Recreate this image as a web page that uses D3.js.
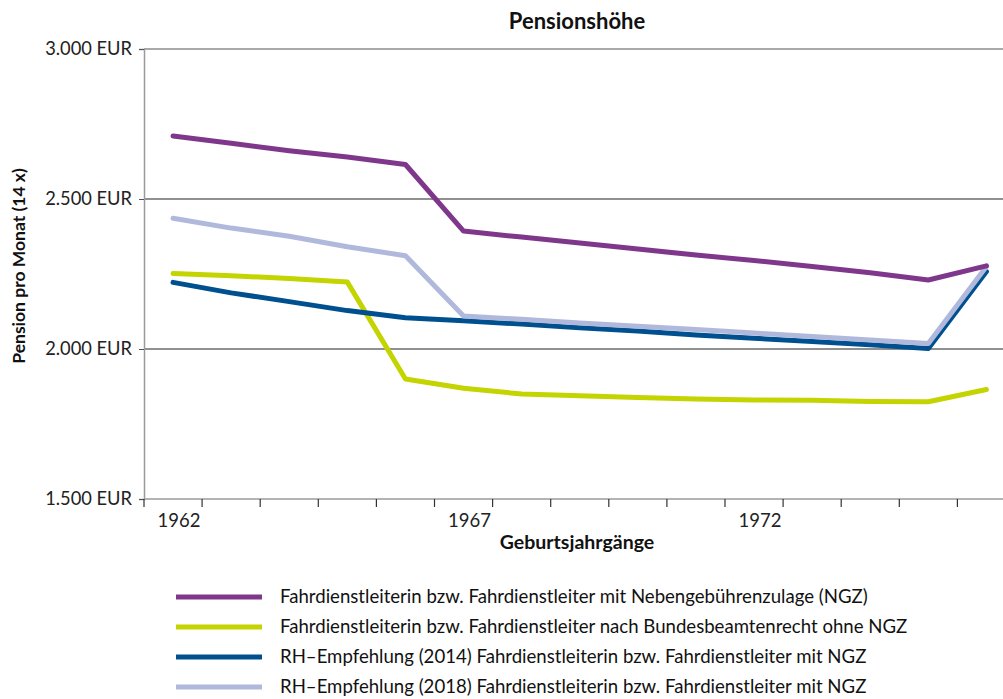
<!DOCTYPE html>
<html><head><meta charset="utf-8">
<script src="https://cdn.jsdelivr.net/npm/d3@7"></script>
<style>body{margin:0;background:#fff}svg{display:block}text{font-family:Lato,sans-serif}</style>
</head><body>
<script>
const years = [1962,1963,1964,1965,1966,1967,1968,1969,1970,1971,1972,1973,1974,1975,1976];
const tickLabels = ["1962","1967","1972"];
const seriesNames = [
  "Fahrdienstleiterin bzw. Fahrdienstleiter mit Nebengebührenzulage (NGZ)",
  "Fahrdienstleiterin bzw. Fahrdienstleiter nach Bundesbeamtenrecht ohne NGZ",
  "RH–Empfehlung (2014) Fahrdienstleiterin bzw. Fahrdienstleiter mit NGZ",
  "RH–Empfehlung (2018) Fahrdienstleiterin bzw. Fahrdienstleiter mit NGZ"
];
const seriesColors = ["#7f378c","#c3d400","#00508f","#b0b9dc"];
const ngz      = [2710,2686,2661,2640,2615,2393,2373,2353,2333,2313,2295,2275,2254,2230,2277];
const ohneNgz  = [2252,2244,2235,2223,1900,1869,1850,1844,1838,1833,1830,1829,1825,1824,1865];
const rh2014   = [2222,2187,2158,2128,2104,2094,2083,2071,2060,2047,2036,2025,2014,2002,2258];
const rh2018   = [2436,2403,2376,2341,2311,2110,2099,2087,2076,2065,2053,2042,2030,2018,2275];
const yTicks = [1500,2000,2500,3000];
const gridValues = [2000,2500];

const W = 1003, H = 699;
const svg = d3.select("body").append("svg").attr("width",W).attr("height",H);

const x = d3.scaleBand().domain(years).range([144, 144+15*58.1]).paddingInner(0).paddingOuter(0);
const y = d3.scaleLinear().domain([1500,3000]).range([499,49]);
const fmt = v => d3.format(",")(v).replace(",",".") + " EUR";

// grid lines
svg.selectAll("line.grid").data(gridValues).join("line")
  .attr("x1",144).attr("x2",W).attr("y1",d=>y(d)).attr("y2",d=>y(d))
  .attr("stroke","#222").attr("stroke-width",1.2);
svg.append("line").attr("x1",144).attr("x2",W).attr("y1",y(3000)).attr("y2",y(3000))
  .attr("stroke","#8c8c8c").attr("stroke-width",1.5);

// y axis
const yAxis = d3.axisLeft(y).tickValues(yTicks).tickFormat(fmt).tickSize(5).tickPadding(7);
const gy = svg.append("g").attr("transform","translate(144,0)").call(yAxis)
  .attr("font-size",null).attr("font-family",null);
gy.select(".domain").attr("stroke","#9a9a9a").attr("stroke-width",1.5);
gy.selectAll(".tick line").attr("stroke","#555");
gy.selectAll(".tick text").style("font-size","18.3px").attr("fill","#222");

// x axis
svg.append("line").attr("x1",144).attr("x2",W).attr("y1",499).attr("y2",499)
  .attr("stroke","#9a9a9a").attr("stroke-width",1.5);
const boundaries = years.map(d=>x(d)).concat([x(years[years.length-1])+x.bandwidth()]);
svg.selectAll("line.xt").data(boundaries).join("line")
  .attr("x1",d=>d).attr("x2",d=>d).attr("y1",499).attr("y2",507)
  .attr("stroke","#333").attr("stroke-width",1.2);
svg.selectAll("text.xl").data(tickLabels).join("text")
  .attr("x",d=>x(+d)+x.bandwidth()/2+6).attr("y",527)
  .attr("text-anchor","middle").style("font-size","18.5px").attr("fill","#222").text(d=>d);

// titles
svg.append("text").attr("x",577).attr("y",29).attr("text-anchor","middle")
  .style("font-size","22px").attr("font-weight","bold").attr("fill","#111").text("Pensionshöhe");
svg.append("text").attr("x",577).attr("y",549).attr("text-anchor","middle")
  .style("font-size","19.5px").attr("font-weight","bold").attr("fill","#111").text("Geburtsjahrgänge");
svg.append("text").attr("transform","translate(25,266) rotate(-90)").attr("text-anchor","middle")
  .style("font-size","17.5px").attr("font-weight","bold").attr("fill","#111").text("Pension pro Monat (14 x)");

// lines
const allSeries = [ngz, ohneNgz, rh2014, rh2018];
const drawOrder = [1,2,3,0];
const line = d3.line().x((d,i)=>x(years[i])+x.bandwidth()/2).y(d=>y(d));
drawOrder.forEach(k=>{
  svg.append("path").datum(allSeries[k]).attr("d",line).attr("fill","none")
    .attr("stroke",seriesColors[k]).attr("stroke-width",5).attr("stroke-linejoin","round").attr("stroke-linecap","round");
});

// legend
const lg = svg.append("g");
seriesNames.forEach((n,i)=>{
  const ly = 597 + i*30;
  lg.append("line").attr("x1",176).attr("x2",262).attr("y1",ly).attr("y2",ly)
    .attr("stroke",seriesColors[i]).attr("stroke-width",5);
  lg.append("text").attr("x",280).attr("y",ly+6).style("font-size","18.6px").attr("fill","#111").text(n);
});
</script>
</body></html>
